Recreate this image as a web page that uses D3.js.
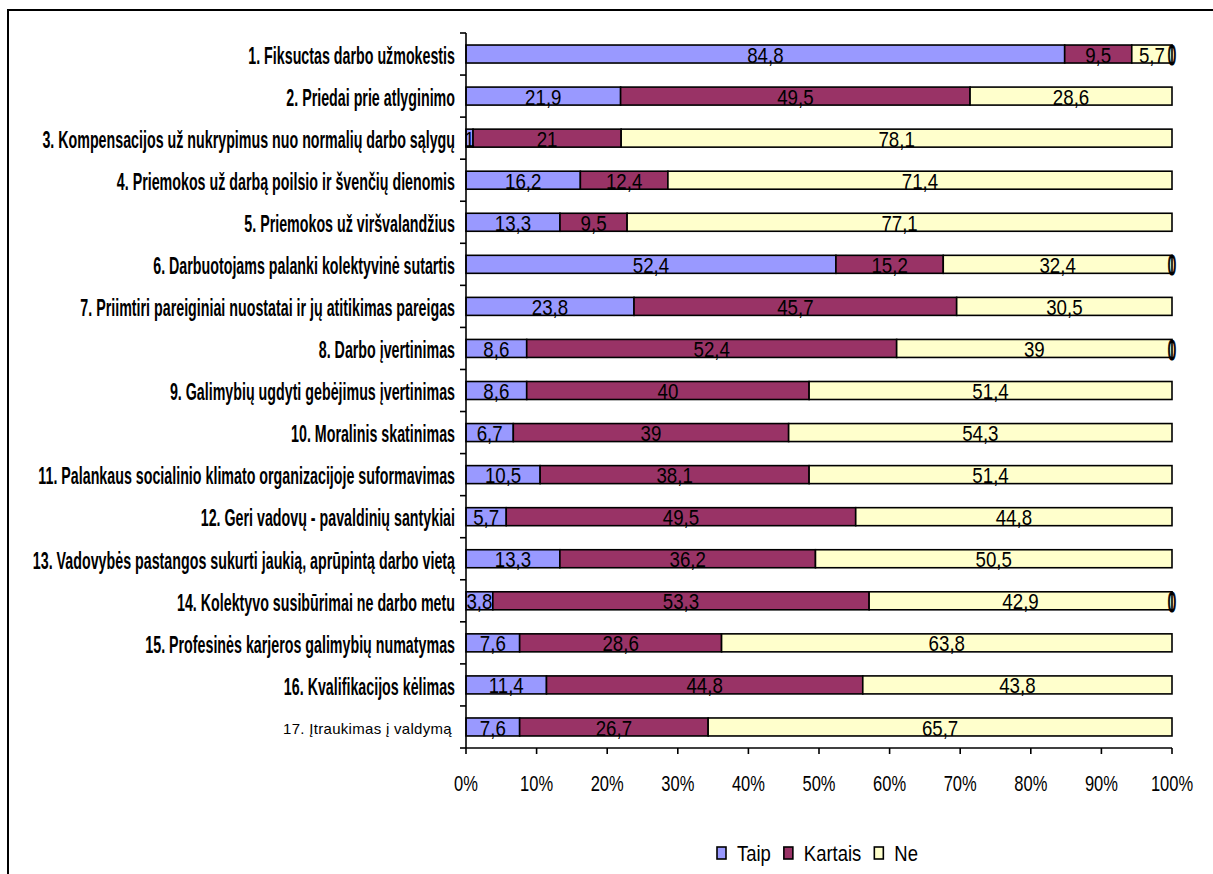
<!DOCTYPE html>
<html>
<head>
<meta charset="utf-8">
<script src="https://cdn.jsdelivr.net/npm/d3@7"></script>
<style>
  html, body { margin: 0; padding: 0; background: #fff; }
  svg { display: block; }
  text { font-family: "Liberation Sans", Arial, sans-serif; fill: #000; }
</style>
</head>
<body>
<svg id="chart" width="1213" height="874"></svg>
<script>
// Survey items (answers in %)
const categories = [
  "1. Fiksuctas darbo užmokestis",
  "2. Priedai prie atlyginimo",
  "3. Kompensacijos už nukrypimus nuo normalių darbo sąlygų",
  "4. Priemokos už darbą poilsio ir švenčių dienomis",
  "5. Priemokos už viršvalandžius",
  "6. Darbuotojams palanki kolektyvinė sutartis",
  "7. Priimtiri pareiginiai nuostatai ir jų atitikimas pareigas",
  "8. Darbo įvertinimas",
  "9. Galimybių ugdyti gebėjimus įvertinimas",
  "10. Moralinis skatinimas",
  "11. Palankaus socialinio klimato organizacijoje suformavimas",
  "12. Geri vadovų - pavaldinių santykiai",
  "13. Vadovybės pastangos sukurti jaukią, aprūpintą darbo vietą",
  "14. Kolektyvo susibūrimai ne darbo metu",
  "15. Profesinės karjeros galimybių numatymas",
  "16. Kvalifikacijos kėlimas",
  "17. Įtraukimas į valdymą"
];
const taip    = [84.8, 21.9, 1, 16.2, 13.3, 52.4, 23.8, 8.6, 8.6, 6.7, 10.5, 5.7, 13.3, 3.8, 7.6, 11.4, 7.6];
const kartais = [9.5, 49.5, 21, 12.4, 9.5, 15.2, 45.7, 52.4, 40, 39, 38.1, 49.5, 36.2, 53.3, 28.6, 44.8, 26.7];
const ne      = [5.7, 28.6, 78.1, 71.4, 77.1, 32.4, 30.5, 39, 51.4, 54.3, 51.4, 44.8, 50.5, 42.9, 63.8, 43.8, 65.7];
// extra answer column, zero where it was recorded
const kita    = [0, null, null, null, null, 0, null, 0, null, null, null, null, null, 0, null, null, null];
const seriesNames = ["Taip", "Kartais", "Ne"];
const tickValues = [0, 10, 20, 30, 40, 50, 60, 70, 80, 90, 100];

const colors = { "Taip": "#9999FF", "Kartais": "#993366", "Ne": "#FFFFCC" };

const svg = d3.select("#chart");
const plotLeft = 466, plotRight = 1172, plotTop = 33, plotBottom = 748;

// outer chart frame
svg.append("rect")
  .attr("x", 8).attr("y", 10).attr("width", 1230).attr("height", 900)
  .attr("fill", "none").attr("stroke", "#000").attr("stroke-width", 2);

const x = d3.scaleLinear().domain([0, 100]).range([plotLeft, plotRight]);
const y = d3.scaleBand().domain(categories).range([plotTop, plotBottom])
  .paddingInner(0.572).paddingOuter(0.286);

// rows normalised to 100 %
const rows = categories.map((c, i) => {
  const vals = [taip[i], kartais[i], ne[i]];
  const total = d3.sum(vals) + (kita[i] || 0);
  let acc = 0;
  const segs = vals.map((v, k) => {
    const s = { cat: c, name: seriesNames[k], value: v, x0: acc / total * 100, x1: (acc + v) / total * 100 };
    acc += v;
    return s;
  });
  return { cat: c, segs, zero: kita[i] };
});

const barG = svg.append("g");
rows.forEach(r => {
  barG.selectAll(null).data(r.segs).enter().append("rect")
    .attr("x", d => x(d.x0))
    .attr("y", y(r.cat))
    .attr("width", d => x(d.x1) - x(d.x0))
    .attr("height", y.bandwidth())
    .attr("fill", d => colors[d.name])
    .attr("stroke", "#000")
    .attr("stroke-width", 1.6);
});

// helper for horizontally condensed text
function condensed(g, tx, ty, str, opts) {
  return g.append("text")
    .attr("transform", `translate(${tx},${ty}) scale(${opts.sx},1)`)
    .attr("text-anchor", opts.anchor || "middle")
    .attr("dominant-baseline", "central")
    .style("font-size", opts.size + "px")
    .style("font-weight", opts.weight || "normal")
    .style("letter-spacing", (opts.ls || 0) + "px")
    .text(str);
}

const fmt = v => String(v).replace(".", ",");

// value labels
const labG = svg.append("g");
rows.forEach(r => {
  const cy = y(r.cat) + y.bandwidth() / 2 + 1;
  r.segs.forEach(s => {
    condensed(labG, x((s.x0 + s.x1) / 2), cy, fmt(s.value), { sx: 0.85, size: 22 });
  });
  if (r.zero !== null) {
    condensed(labG, x(100), cy, fmt(r.zero), { sx: 0.5, size: 30 })
      .attr("stroke", "#000").attr("stroke-width", 1.2);
  }
});

// category axis
const axG = svg.append("g");
axG.append("line").attr("x1", plotLeft).attr("x2", plotLeft).attr("y1", plotTop).attr("y2", plotBottom)
  .attr("stroke", "#000").attr("stroke-width", 1.6);
const bounds = categories.map(c => y(c) - y.step() * y.paddingInner() / 2).concat([plotBottom]);
bounds[0] = plotTop;
axG.selectAll(null).data(bounds).enter().append("line")
  .attr("x1", plotLeft - 6).attr("x2", plotLeft).attr("y1", d => d).attr("y2", d => d)
  .attr("stroke", "#000").attr("stroke-width", 1.6);

categories.forEach((c, i) => {
  const cy = y(c) + y.bandwidth() / 2 + 2;
  if (i === categories.length - 1) {
    condensed(axG, plotLeft - 14, cy, c, { sx: 1, size: 15, anchor: "end", ls: 0.3 });
  } else {
    condensed(axG, plotLeft - 11, cy, c, { sx: 0.62, size: 23, anchor: "end", weight: "bold" });
  }
});

// value axis
axG.append("line").attr("x1", plotLeft).attr("x2", plotRight).attr("y1", plotBottom).attr("y2", plotBottom)
  .attr("stroke", "#000").attr("stroke-width", 1.6);
axG.selectAll(null).data(tickValues).enter().append("line")
  .attr("x1", d => x(d)).attr("x2", d => x(d)).attr("y1", plotBottom).attr("y2", plotBottom + 6)
  .attr("stroke", "#000").attr("stroke-width", 1.6);
tickValues.forEach(t => condensed(axG, x(t), 783, t + "%", { sx: 0.75, size: 22 }));

// legend
const legG = svg.append("g");
let lx = 717;
const ly = 853;
seriesNames.forEach(n => {
  legG.append("rect").attr("x", lx).attr("y", ly - 6).attr("width", 9).attr("height", 12)
    .attr("fill", colors[n]).attr("stroke", "#000").attr("stroke-width", 1.6);
  const t = condensed(legG, lx + 20, ly, n, { sx: 0.84, size: 22, anchor: "start" });
  const w = t.node().getComputedTextLength() * 0.84;
  lx += 20 + w + 13;
});
</script>
</body>
</html>
